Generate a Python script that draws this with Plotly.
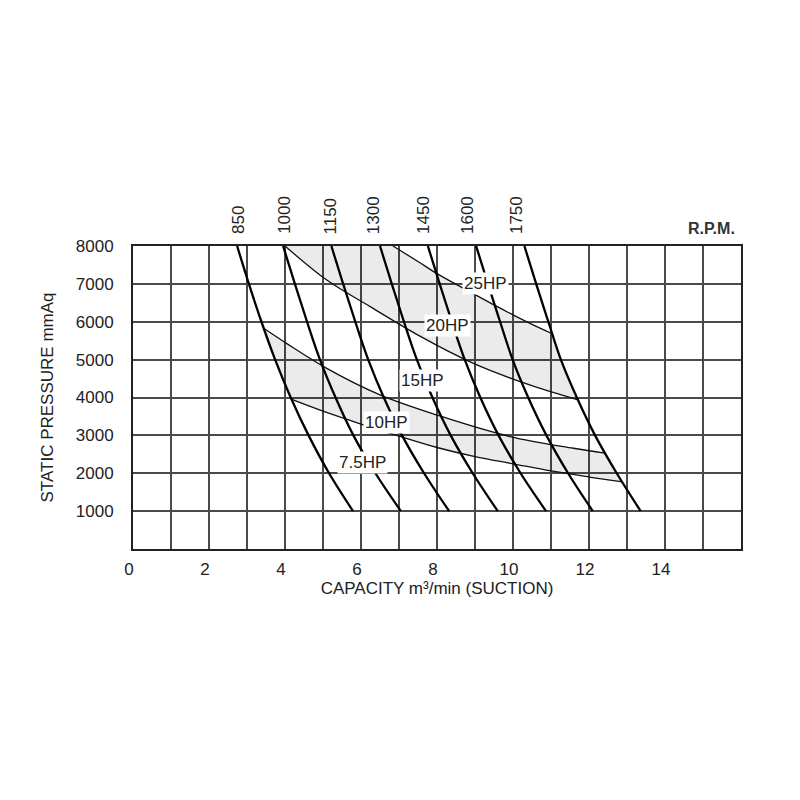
import plotly.graph_objects as go

# static pressure (mmAq) at which each rpm curve was read
rpm_pressure = [8000, 7000, 6000, 5000, 4000, 3000, 2000, 1000]

# capacity (m3/min) of each rpm curve at the pressures above
rpm_names = ["850", "1000", "1150", "1300", "1450", "1600", "1750"]
rpm_850 = [2.74, 3.05, 3.38, 3.74, 4.15, 4.62, 5.16, 5.79]
rpm_1000 = [3.95, 4.26, 4.58, 4.92, 5.33, 5.80, 6.38, 7.05]
rpm_1150 = [5.22, 5.53, 5.85, 6.19, 6.60, 7.08, 7.66, 8.32]
rpm_1300 = [6.50, 6.81, 7.13, 7.47, 7.88, 8.36, 8.94, 9.60]
rpm_1450 = [7.76, 8.07, 8.39, 8.73, 9.14, 9.62, 10.20, 10.87]
rpm_1600 = [9.03, 9.34, 9.66, 9.99, 10.40, 10.88, 11.45, 12.10]
rpm_1750 = [10.30, 10.61, 10.93, 11.26, 11.68, 12.16, 12.73, 13.36]
rpm_curves = [rpm_850, rpm_1000, rpm_1150, rpm_1300, rpm_1450, rpm_1600, rpm_1750]

# horsepower boundary curves (capacity, pressure)
hp25_x = [6.84, 7.5, 8.0, 8.7, 9.4, 10.0, 10.5, 11.02]
hp25_y = [8000, 7590, 7270, 6880, 6500, 6180, 5930, 5690]
hp20_x = [4.0, 5.1, 6.24, 7.55, 8.96, 10.36, 11.71]
hp20_y = [8000, 7100, 6400, 5620, 4900, 4360, 3940]
hp15_x = [3.44, 4.04, 5.10, 6.50, 7.99, 9.92, 11.59, 12.42]
hp15_y = [5830, 5430, 4770, 4070, 3540, 2970, 2660, 2530]
hp10_x = [4.18, 5.0, 6.0, 7.0, 8.0, 9.0, 10.0, 11.0, 12.0, 12.88]
hp10_y = [3950, 3640, 3300, 2980, 2680, 2440, 2250, 2060, 1900, 1770]

# horsepower labels
hp_names = ["25HP", "20HP", "15HP", "10HP", "7.5HP"]
hp_label_x = [9.28, 8.28, 7.62, 6.68, 6.04]
hp_label_y = [7020, 5910, 4450, 3340, 2280]

# rpm labels above the chart
rpm_label_x = [2.76, 3.97, 5.21, 6.32, 7.63, 8.79, 10.08]

x_tick_vals = [0, 2, 4, 6, 8, 10, 12, 14]
y_tick_vals = [1000, 2000, 3000, 4000, 5000, 6000, 7000, 8000]

FONT = "Liberation Sans"
shade = "rgba(0,0,0,0.08)"


def rpm_segment(curve, y_hi, y_lo):
    # points of an rpm curve strictly between two pressures (top to bottom)
    pts = [(x, y) for x, y in zip(curve, rpm_pressure) if y_lo < y < y_hi]
    return [p[0] for p in pts], [p[1] for p in pts]


fig = go.Figure()

# upper shaded band (between 20HP and 25HP, closed by the 1750 rpm curve)
seg_x, seg_y = rpm_segment(rpm_1750, hp25_y[-1], hp20_y[-1])
band_x = hp25_x + seg_x + hp20_x[::-1]
band_y = hp25_y + seg_y + hp20_y[::-1]
fig.add_trace(
    go.Scatter(x=band_x, y=band_y, fill="toself", fillcolor=shade,
               line=dict(width=0), mode="lines", hoverinfo="skip")
)

# lower shaded band (between 10HP and 15HP, closed by 850 and 1750 rpm)
seg_r_x, seg_r_y = rpm_segment(rpm_1750, hp15_y[-1], hp10_y[-1])
seg_l_x, seg_l_y = rpm_segment(rpm_850, hp15_y[0], hp10_y[0])
band_x = hp15_x + seg_r_x + hp10_x[::-1] + seg_l_x[::-1]
band_y = hp15_y + seg_r_y + hp10_y[::-1] + seg_l_y[::-1]
fig.add_trace(
    go.Scatter(x=band_x, y=band_y, fill="toself", fillcolor=shade,
               line=dict(width=0), mode="lines", hoverinfo="skip")
)

# horsepower curves (thin)
for hx, hy in [(hp25_x, hp25_y), (hp20_x, hp20_y), (hp15_x, hp15_y), (hp10_x, hp10_y)]:
    fig.add_trace(
        go.Scatter(x=hx, y=hy, mode="lines", line=dict(color="#111", width=1.3, shape="spline"),
                   hoverinfo="skip")
    )

# rpm curves (thick)
for name, curve in zip(rpm_names, rpm_curves):
    fig.add_trace(
        go.Scatter(x=curve, y=rpm_pressure, mode="lines", name=name,
                   line=dict(color="#000", width=2.3, shape="spline"))
    )

# hp labels with white boxes
for name, lx, ly in zip(hp_names, hp_label_x, hp_label_y):
    fig.add_annotation(
        x=lx, y=ly, xref="x", yref="y", text=name, showarrow=False,
        bgcolor="white", borderpad=1, font=dict(family=FONT, size=17, color="#222"),
    )

# rpm labels rotated above the plot
for name, lx in zip(rpm_names, rpm_label_x):
    fig.add_annotation(
        x=lx, y=1, xref="x", yref="paper", text=name, showarrow=False,
        textangle=-90, yanchor="bottom", yshift=10,
        font=dict(family=FONT, size=17, color="#222"),
    )

fig.add_annotation(
    x=0.952, y=1, xref="paper", yref="paper", text="<b>R.P.M.</b>", showarrow=False,
    xanchor="center", yanchor="middle", yshift=18,
    font=dict(family=FONT, size=16, color="#333"),
)

# page body has an 8px margin, so the margins are trimmed to match
fig.update_layout(
    width=800, height=800, autosize=False,
    margin=dict(l=125, r=67, t=238, b=259),
    paper_bgcolor="white", plot_bgcolor="white",
    showlegend=False,
    font=dict(family=FONT, size=17, color="#222"),
)

fig.update_xaxes(
    range=[0, 16], tickvals=x_tick_vals, ticktext=[str(v) for v in x_tick_vals],
    showgrid=True, gridcolor="#4a4a4a", gridwidth=2,
    minor=dict(dtick=1, tick0=0, showgrid=True, gridcolor="#4a4a4a", gridwidth=2),
    showline=True, mirror=True, linecolor="#222", linewidth=2,
    zeroline=False, ticks="", ticklabelstandoff=4, ticklabelshift=-4,
    title=dict(text="CAPACITY m³/min (SUCTION)", standoff=4,
               font=dict(family=FONT, size=17, color="#222")),
)

fig.update_yaxes(
    range=[0, 8000], tickvals=y_tick_vals, ticktext=[str(v) for v in y_tick_vals],
    showgrid=True, gridcolor="#4a4a4a", gridwidth=2,
    showline=True, mirror=True, linecolor="#222", linewidth=2,
    zeroline=False, ticks="", ticklabelstandoff=14,
    title=dict(text="STATIC PRESSURE mmAq", standoff=18,
               font=dict(family=FONT, size=17, color="#222")),
)

fig.write_html("out.html")
